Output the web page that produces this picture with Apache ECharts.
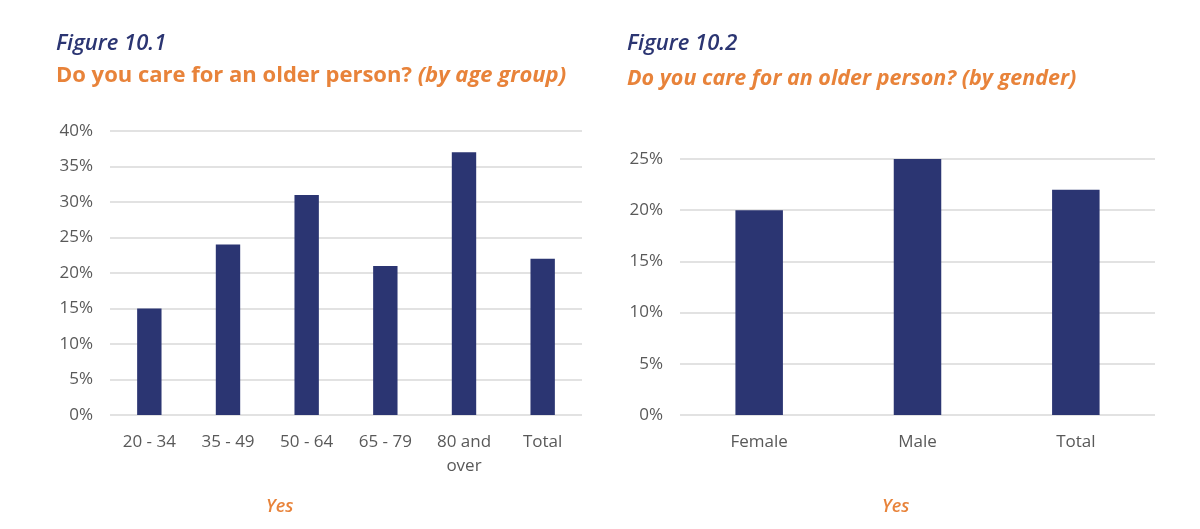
<!DOCTYPE html>
<html>
<head>
<meta charset="utf-8">
<script src="https://cdn.jsdelivr.net/npm/echarts@6/dist/echarts.min.js"></script>
<style>
html,body{margin:0;padding:0;background:#fff;}
#c{width:1200px;height:529px;}
</style>
</head>
<body>
<div id="c"></div>
<script>
const ageCategories = ['20 - 34', '35 - 49', '50 - 64', '65 - 79', '80 and\nover', 'Total'];
const ageValues = [15, 24, 31, 21, 37, 22];
const ageTicks = { min: 0, max: 40, interval: 5 };

const genderCategories = ['Female', 'Male', 'Total'];
const genderValues = [20, 25, 22];
const genderTicks = { min: 0, max: 25, interval: 5 };

const FONT = '"Open Sans", "Noto Sans", sans-serif';
const NAVY = '#2b3572';
const ORANGE = '#e8833a';
const GREY = '#595959';

const chart = echarts.init(document.getElementById('c'), null, { renderer: 'canvas' });

function yAxis(idx, t) {
  return {
    type: 'value', gridIndex: idx, min: t.min, max: t.max, interval: t.interval,
    axisLine: { show: false }, axisTick: { show: false },
    axisLabel: { formatter: '{value}%', color: GREY, fontFamily: FONT, fontSize: 17, margin: 17 },
    splitLine: { lineStyle: { color: '#d9d9d9', width: 1.5 } }
  };
}
function xAxis(idx, cats) {
  return {
    type: 'category', gridIndex: idx, data: cats,
    axisLine: { show: false }, axisTick: { show: false },
    axisLabel: { color: GREY, fontFamily: FONT, fontSize: 17, margin: 15, lineHeight: 24, interval: 0 }
  };
}

chart.setOption({
  animation: false,
  title: [
    { text: 'Figure 10.1', left: 51, top: 28, textStyle: { color: NAVY, fontFamily: FONT, fontSize: 22, fontWeight: 600, fontStyle: 'italic' } },
    { text: '{n|Do you care for an older person? }{i|(by age group)}', left: 51, top: 60,
      textStyle: { rich: {
        n: { color: ORANGE, fontFamily: FONT, fontSize: 22, fontWeight: 'bold' },
        i: { color: ORANGE, fontFamily: FONT, fontSize: 22, fontWeight: 'bold', fontStyle: 'italic' } } } },
    { text: 'Figure 10.2', left: 622, top: 28, textStyle: { color: NAVY, fontFamily: FONT, fontSize: 22, fontWeight: 600, fontStyle: 'italic' } },
    { text: 'Do you care for an older person? (by gender)', left: 622, top: 63,
      textStyle: { color: ORANGE, fontFamily: FONT, fontSize: 21.5, fontWeight: 'bold', fontStyle: 'italic' } },
    { text: 'Yes', left: 261, top: 493, textStyle: { color: ORANGE, fontFamily: FONT, fontSize: 18, fontWeight: 600, fontStyle: 'italic' } },
    { text: 'Yes', left: 877, top: 493, textStyle: { color: ORANGE, fontFamily: FONT, fontSize: 18, fontWeight: 600, fontStyle: 'italic' } }
  ],
  grid: [
    { left: 110, right: 618, top: 131, bottom: 114, containLabel: false },
    { left: 680, right: 45, top: 159, bottom: 114, containLabel: false }
  ],
  xAxis: [xAxis(0, ageCategories), xAxis(1, genderCategories)],
  yAxis: [yAxis(0, ageTicks), yAxis(1, genderTicks)],
  series: [
    { type: 'bar', xAxisIndex: 0, yAxisIndex: 0, data: ageValues, barWidth: '31%', itemStyle: { color: NAVY } },
    { type: 'bar', xAxisIndex: 1, yAxisIndex: 1, data: genderValues, barWidth: '30%', itemStyle: { color: NAVY } }
  ]
});
</script>
</body>
</html>
